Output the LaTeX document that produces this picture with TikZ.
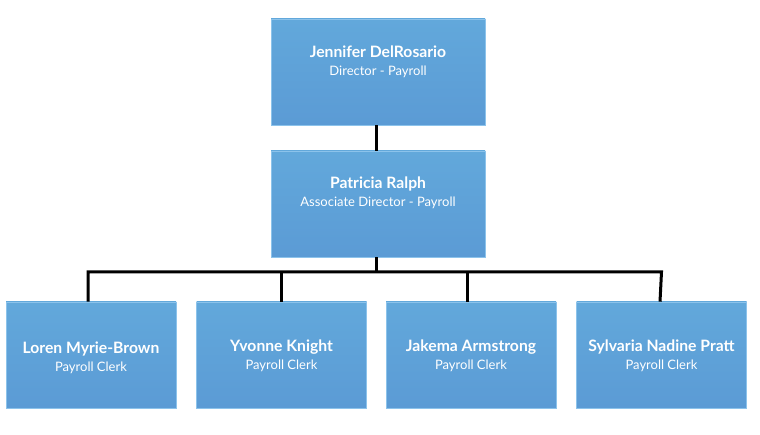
\documentclass[tikz,border=0pt]{standalone}
\usepackage{fontspec}
\setmainfont{Lato}
\definecolor{boxtop}{RGB}{98,168,219}
\definecolor{boxbot}{RGB}{91,155,213}
\definecolor{boxline}{RGB}{140,195,235}
\newcommand{\nm}[1]{{\fontsize{15.7}{18}\selectfont\bfseries #1}}
\begin{document}
\begin{tikzpicture}[x=1pt,y=-1pt,
  box/.style={rectangle, draw=boxline, line width=0.6pt, top color=boxtop, bottom color=boxbot, inner sep=0pt},
  bigbox/.style={box, minimum width=214pt, minimum height=106pt},
  smallbox/.style={box, minimum width=170pt, minimum height=106pt},
  txt/.style={align=center, text=white, inner sep=0pt, font=\fontsize{13}{18}\selectfont},
  conn/.style={line width=3pt, black}]
\useasboundingbox (0,0) rectangle (760,435);
\node[bigbox] (d) at (378,72) {};
\node[bigbox] (a) at (378,204) {};
\node[smallbox] (c1) at (91,355) {};
\node[smallbox] (c2) at (281.5,355) {};
\node[smallbox] (c3) at (471,355) {};
\node[smallbox] (c4) at (661.5,355) {};
\node[txt] (td) at (378,62) {\nm{Jennifer DelRosario}\\Director - Payroll};
\node[txt] (ta) at (378,193) {\nm{Patricia Ralph}\\Associate Director - Payroll};
\node[txt] (t1) at (91,358) {\nm{Loren Myrie-Brown}\\Payroll Clerk};
\node[txt] (t2) at (281.5,356) {\nm{Yvonne Knight}\\Payroll Clerk};
\node[txt] (t3) at (471,356) {\nm{Jakema Armstrong}\\Payroll Clerk};
\node[txt] (t4) at (661.5,356) {\nm{Sylvaria Nadine Pratt}\\Payroll Clerk};
\coordinate (bar) at (376,272);
\draw[conn] ([xshift=-2pt]d.south) -- ([xshift=-2pt]a.north);
\draw[conn] ([xshift=-2pt]a.south) -- (bar);
\draw[conn] ([xshift=-3pt]c1.north) |- (bar -| c4.north) -- ([xshift=-1.5pt]c4.north);
\draw[conn] (c2.north) -- (c2.north |- bar);
\draw[conn] ([xshift=-4pt]c3.north) -- ([xshift=-4pt]c3.north |- bar);
\end{tikzpicture}
\end{document}
